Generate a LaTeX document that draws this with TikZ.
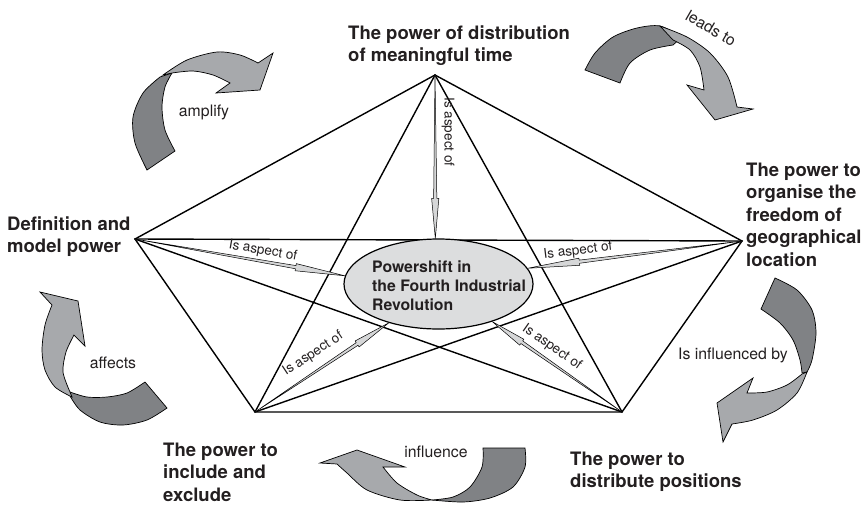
\documentclass[tikz,border=0pt]{standalone}
\usepackage{fontspec}
\setmainfont{TeX Gyre Heros}
\usetikzlibrary{shapes.geometric,calc}
\definecolor{txt}{HTML}{231F20}
\definecolor{ribdark}{HTML}{808285}
\definecolor{riblight}{HTML}{A7A9AC}
\definecolor{ellfill}{HTML}{DCDDDE}
\definecolor{shaftfill}{HTML}{D6D7D8}
\newcommand{\mlines}[1]{\vtop{\let\\\cr\halign{##\hfil\cr#1\crcr}}}
\newcommand{\aspectarrow}[3]{%
  \coordinate (hb) at ($(#2)!#3!(#1)$);
  \filldraw[shaft] (#1) -- ($(hb)!1.6pt!90:(#2)$) -- ($(hb)!3.6pt!90:(#2)$) -- (#2)
    -- ($(hb)!3.6pt!-90:(#2)$) -- ($(hb)!1.6pt!-90:(#2)$) -- cycle;}
\tikzset{
  edge/.style={line width=1.4pt, line cap=round},
  shaft/.style={fill=shaftfill, draw=black, line width=0.5pt, line join=round},
  ribd/.style={fill=ribdark, draw=black, line width=0.7pt, line join=miter},
  ribl/.style={fill=riblight, draw=black, line width=0.7pt, line join=miter},
  biglbl/.style={font=\fontsize{18.5}{22.5}\selectfont\bfseries, text=txt, inner sep=0pt, anchor=base west},
  smalllbl/.style={font=\fontsize{15.8}{19}\selectfont, text=txt, inner sep=0pt},
  asplbl/.style={font=\fontsize{13.5}{16}\selectfont, text=txt, inner sep=0pt},
}
\begin{document}
\begin{tikzpicture}[x=1pt,y=-1pt]
\useasboundingbox (0,0) rectangle (864,504);
% vertices
\coordinate (T) at (435,75);
\coordinate (L) at (135,239);
\coordinate (R) at (742,241);
\coordinate (BL) at (255,412);
\coordinate (BR) at (622,412);
% complete graph
\draw[edge] (T) -- (L) -- (BL) -- (BR) -- (R) -- cycle;
\draw[edge] (T) -- (BL);
\draw[edge] (T) -- (BR);
\draw[edge] (L) -- (BR);
\draw[edge] (R) -- (BL);
\draw[edge] (L) -- (R);
% central ellipse
\node[ellipse, draw=black, line width=1.2pt, fill=ellfill, minimum width=189pt, minimum height=90pt, inner sep=0pt] (ell) at (438.5,284) {};
\node[font=\fontsize{15.8}{19}\selectfont\bfseries, text=txt, inner sep=0pt, anchor=base west] (elltxt) at (372,272) {\mlines{Powershift in\\the Fourth Industrial\\Revolution}};
% aspect arrows
\aspectarrow{T}{ell.94}{40pt}
\aspectarrow{L}{ell.175}{50pt}
\aspectarrow{R}{ell.10}{52pt}
\aspectarrow{BL}{ell.218}{38pt}
\aspectarrow{BR}{ell.325}{36pt}
\node[asplbl, rotate=-90] (a1) at (448,132) {Is aspect of};
\node[asplbl, rotate=-10] (a2) at (263,251) {Is aspect of};
\node[asplbl, rotate=7] (a3) at (578,251) {Is aspect of};
\node[asplbl, rotate=33.5] (a4) at (313,354) {Is aspect of};
\node[asplbl, rotate=-35] (a5) at (552,347) {Is aspect of};
% outer labels
\node[biglbl] (tlbl) at (348,39.3) {\mlines{The power of distribution\\of meaningful time}};
\node[biglbl] (llbl) at (7,230) {\mlines{Definition and\\model power}};
\node[biglbl] (rlbl) at (746,176) {\mlines{The power to\\organise the\\freedom of\\geographical\\location}};
\node[biglbl] (bllbl) at (163,456) {\mlines{The power to\\include and\\exclude}};
\node[biglbl] (brlbl) at (570,465) {\mlines{The power to\\distribute positions}};
% ribbon A (amplify)
\filldraw[ribd] plot[smooth] coordinates {(147,170) (135,143) (133,117) (143,93) (160,77)} -- plot[smooth] coordinates {(172,73) (165,87) (162,107) (165,130) (175,151)} -- cycle;
\filldraw[ribl] plot[smooth] coordinates {(163,75) (187,60) (217,52) (240,55) (258,63)} -- (273,53) -- (260,90) -- (216,93) -- plot[smooth] coordinates {(230,83) (213,75) (193,71) (172,73)} -- cycle;
\node[smalllbl] (amp) at (204,112) {amplify};
% ribbon B (leads to)
\filldraw[ribd] plot[smooth] coordinates {(585,70) (595,53) (613,37) (637,28) (660,26) (682,37)} -- plot[smooth] coordinates {(673,45) (650,50) (630,63) (620,83)} -- cycle;
\filldraw[ribl] plot[smooth] coordinates {(660,26) (687,37) (710,53) (728,77) (737,107)} -- (753,109) -- (715,120) -- (687,85) -- plot[smooth] coordinates {(704,90) (700,67) (690,50) (673,40)} -- cycle;
\node[smalllbl, rotate=-30] (lead) at (711,28) {leads to};
% ribbon C (Is influenced by)
\filldraw[ribd] plot[smooth] coordinates {(775,278) (797,290) (812,310) (816,333) (812,360) (807,372)} -- plot[smooth] coordinates {(802,373) (800,360) (793,340) (780,323) (761,309)} -- cycle;
\filldraw[ribl] plot[smooth] coordinates {(807,372) (797,393) (777,410) (753,420) (732,424)} -- (723,442) -- (717,403) -- (753,378) -- plot[smooth] coordinates {(747,393) (767,392) (787,385) (802,374)} -- cycle;
\node[smalllbl] (infby) at (733,355) {Is influenced by};
% ribbon D (influence)
\filldraw[ribd] plot[smooth] coordinates {(525,448) (525,467) (513,487) (490,498) (463,502) (432,500)} -- plot[smooth] coordinates {(432,500) (453,497) (470,487) (482,467) (483,448)} -- cycle;
\filldraw[ribl] plot[smooth] coordinates {(432,500) (400,500) (367,490) (347,473) (337,464)} -- (320,463) -- (357,450) -- (405,467) -- plot[smooth] coordinates {(383,467) (397,483) (417,495) (432,500)} -- cycle;
\node[smalllbl] (infl) at (436,452) {influence};
% ribbon E (affects)
\filldraw[ribd] plot[smooth] coordinates {(70,392) (87,397) (107,397) (127,393) (145,382)} -- plot[smooth] coordinates {(167,408) (147,420) (123,425) (100,422) (80,410) (70,396)} -- cycle;
\filldraw[ribl] plot[smooth] coordinates {(74,335) (66,352) (63,372) (70,392)} -- plot[smooth] coordinates {(72,397) (55,387) (45,370) (42,350) (45,325) (52,305)} -- (40,292) -- (78,301) -- (85,346) -- cycle;
\node[smalllbl] (aff) at (113,363) {affects};
\end{tikzpicture}
\end{document}
